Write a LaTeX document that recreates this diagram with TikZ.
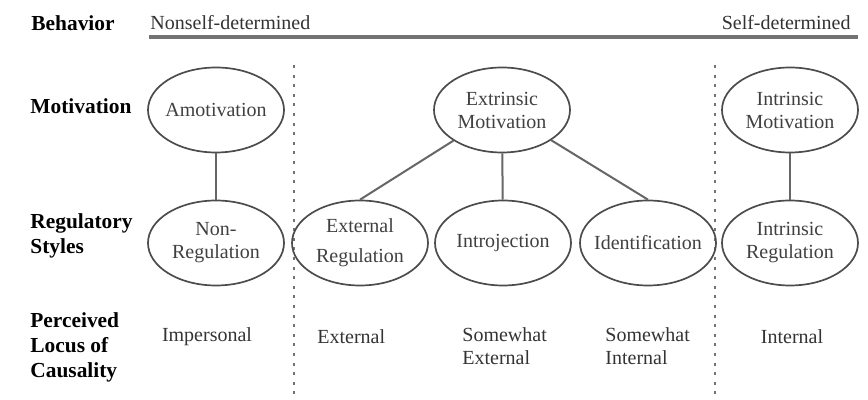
\documentclass[tikz,border=0pt]{standalone}
\usepackage{fontspec}
\setmainfont{Liberation Serif}
\usetikzlibrary{shapes.geometric}

\tikzset{
  rowlabel/.style={font=\fontsize{10.7}{12.5}\selectfont\bfseries, align=left, anchor=west, inner sep=0pt, text=black},
  plain/.style={font=\fontsize{10}{11.5}\selectfont, align=left, inner sep=0pt, text=black!80},
  oval/.style={draw=black!70, line width=0.85pt, ellipse, minimum width=68pt, minimum height=42.5pt,
    inner xsep=-8pt, inner ysep=0pt, align=center, text=black!75,
    font=\fontsize{10}{11.5}\selectfont},
  link/.style={draw=black!60, line width=1pt},
  divider/.style={draw=black!55, line width=1.3pt, dash pattern=on 1.5pt off 3.3pt},
  scale line/.style={draw=black!55, line width=1.6pt}
}

\begin{document}
\begin{tikzpicture}[x=0.5pt, y=-0.5pt]
  \useasboundingbox (0,0) rectangle (868,400);

  % behaviour continuum
  \node[rowlabel, anchor=base west] (lbeh) at (31,31) {Behavior};
  \node[plain, anchor=base west] (nsd) at (150,30) {Nonself-determined};
  \node[plain, anchor=base east] (sd) at (851,30) {Self-determined};
  \coordinate (bl) at (149,37);
  \coordinate (br) at (858,37);
  \draw[scale line] (bl) -- (br);

  % column dividers
  \coordinate (d1t) at (294,65);
  \coordinate (d1b) at (294,400);
  \coordinate (d2t) at (715,65);
  \coordinate (d2b) at (715,400);
  \draw[divider] (d1t) -- (d1b);
  \draw[divider] (d2t) -- (d2b);

  % row labels
  \node[rowlabel] (lmot) at (30,106) {Motivation};
  \node[rowlabel] (lreg) at (30,236) {Regulatory\\Styles};
  \node[rowlabel] (lloc) at (30,347) {Perceived\\Locus of\\Causality};

  % motivation types
  \node[oval] (amot) at (216,110) {Amotivation};
  \node[oval] (extr) at (502,110) {Extrinsic\\Motivation};
  \node[oval] (intr) at (790,110) {Intrinsic\\Motivation};

  % regulatory styles
  \node[oval] (nonreg) at (216,243) {Non-\\Regulation};
  \node[oval] (extreg) at (360,243) {External\\[3.5pt]Regulation};
  \node[oval] (introj) at (503,243) {Introjection};
  \node[oval] (ident) at (648,243) {Identification};
  \node[oval] (intreg) at (790,243) {Intrinsic\\Regulation};

  % links
  \draw[link] (amot) -- (nonreg);
  \draw[link] (extr) -- (extreg.north);
  \draw[link] (extr) -- (introj);
  \draw[link] (extr) -- (ident.north);
  \draw[link] (intr) -- (intreg);

  % perceived locus of causality
  \node[plain] (impers) at (207,337) {Impersonal};
  \node[plain, anchor=west] (extloc) at (317,337) {External};
  \node[plain, anchor=west] (swext) at (462,346) {Somewhat\\External};
  \node[plain, anchor=west] (swint) at (605,346) {Somewhat\\Internal};
  \node[plain] (intloc) at (792,337) {Internal};
\end{tikzpicture}
\end{document}
